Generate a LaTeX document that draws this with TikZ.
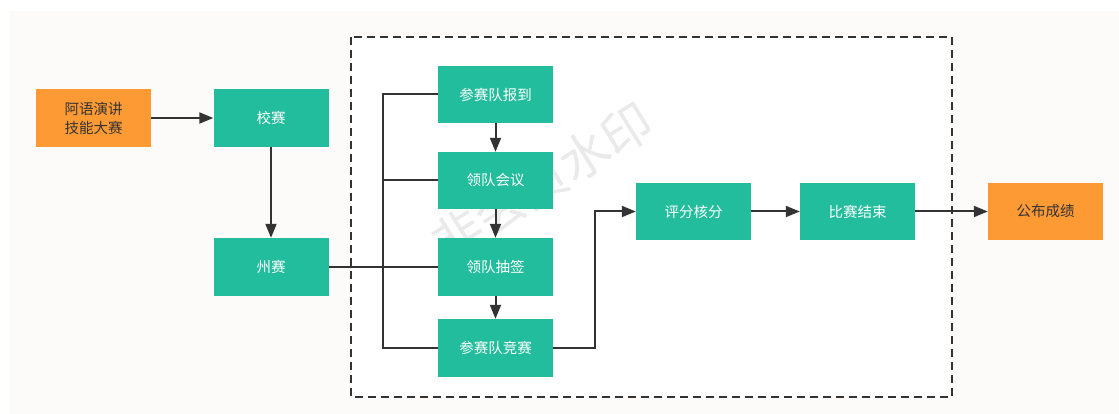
\documentclass[tikz,border=0pt]{standalone}
\usepackage{fontspec}
\newfontfamily\cjk{Noto Sans CJK SC}
\usetikzlibrary{arrows.meta}
\definecolor{bgc}{HTML}{FCFBFA}
\definecolor{grn}{HTML}{22BD9C}
\definecolor{org}{HTML}{FE9A34}
\definecolor{ln}{HTML}{333333}
\definecolor{wm}{HTML}{EAEAEA}
\tikzset{
  box/.style={rectangle, draw=none, minimum width=115pt, minimum height=58pt, inner sep=0pt, align=center, font=\cjk\fontsize{14.5}{19}\selectfont},
  gbox/.style={box, fill=grn, text=white},
  obox/.style={box, fill=org, text=ln},
  conn/.style={draw=ln, line width=2pt},
  arr/.style={conn, -{Triangle[length=14pt,width=11pt]}},
}
\begin{document}
\begin{tikzpicture}[x=1pt,y=-1pt]
\useasboundingbox (0,0) rectangle (1119,414);
\fill[white] (0,0) rectangle (1119,414);
\fill[bgc] (10,11) rectangle (1119,414);
\draw[ln, line width=1.6pt, dash pattern=on 8pt off 5pt, fill=white] (351,37) rectangle (952,397);
\node[text=wm, rotate=32, font=\cjk\fontsize{50}{50}\selectfont] (wmk) at (542,182) {非会员水印};

\node[obox] (a) at (93.5,118) {阿语演讲\\技能大赛};
\node[gbox] (xs) at (271,118) {校赛};
\node[gbox] (zs) at (271,267) {州赛};
\node[gbox, minimum height=57pt] (b1) at (495.5,94.5) {参赛队报到};
\node[gbox, minimum height=57pt] (b2) at (495.5,180.5) {领队会议};
\node[gbox] (b3) at (495.5,267) {领队抽签};
\node[gbox] (b4) at (495.5,348) {参赛队竞赛};
\node[gbox, minimum height=57pt] (p) at (693.5,211.5) {评分核分};
\node[gbox, minimum height=57pt] (e) at (857.5,211.5) {比赛结束};
\node[obox, minimum height=57pt] (g) at (1045.5,211.5) {公布成绩};

\coordinate (bt) at (383,94.5);
\coordinate (bb) at (383,348);
\coordinate (k) at (595,348);

\draw[arr] (a) -- (xs);
\draw[arr] (xs) -- (zs);
\draw[conn] (zs.east) -- (b3.west);
\draw[conn] (b1.west) -- (bt) -- (bb) -- (b4.west);
\draw[conn] (b2.west) -- (b2.west -| bt);
\draw[arr] (b1) -- (b2);
\draw[arr] (b2) -- (b3);
\draw[arr] (b3) -- (b4);
\draw[arr] (b4.east) -- (k) |- (p.west);
\draw[arr] (p) -- (e);
\draw[arr] (e) -- (g);
\end{tikzpicture}
\end{document}
